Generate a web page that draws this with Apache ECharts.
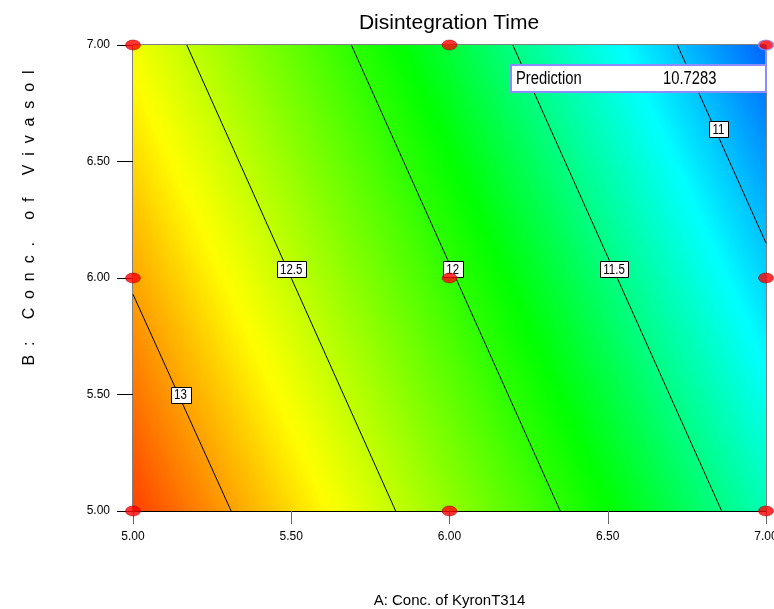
<!DOCTYPE html>
<html>
<head>
<meta charset="utf-8">
<title>Disintegration Time</title>
<script src="https://cdn.jsdelivr.net/npm/echarts@6/dist/echarts.min.js"></script>
<style>
	html, body { margin: 0; padding: 0; background: #fff; }
	#main { width: 774px; height: 609px; }
</style>
</head>
<body>
<div id="main"></div>
<script>
// factor axes
var axisA = [5.00, 5.50, 6.00, 6.50, 7.00];
var axisB = [5.00, 5.50, 6.00, 6.50, 7.00];

// contour levels, and where each line enters / leaves the plot
var levels = [13, 12.5, 12, 11.5, 11];
var lineStartA = [5.00, 5.17, 5.69, 6.20, 6.72];
var lineStartB = [5.93, 7.00, 7.00, 7.00, 7.00];
var lineEndA = [5.31, 5.83, 6.35, 6.86, 7.00];
var lineEndB = [5.00, 5.00, 5.00, 5.00, 6.15];

// where the level flags sit on the lines
var flagA = [5.15, 5.50, 6.01, 6.52, 6.85];
var flagB = [5.50, 6.04, 6.04, 6.04, 6.64];

// design points
var designA = [5, 5, 5, 6, 6, 6, 7, 7, 7];
var designB = [5, 6, 7, 5, 6, 7, 5, 6, 7];

var cornerA = [5, 7];
var cornerB = [5, 7];
var cornerValue = [13.30, 10.7283];

// prediction flag
var predictionA = 7;
var predictionB = 7;
var predictionValue = 10.7283;

// colour ramp of the response
var rampValues = [10.45, 11.17, 11.85, 12.7, 13.5];
var rampColors = ['#0000ff', '#00ffff', '#00ff00', '#ffff00', '#ff0000'];

var FONT = '"Liberation Sans", Arial, sans-serif';
var NARROW_X = 0.82; // the original uses a narrow face

var measureCtx = document.createElement('canvas').getContext('2d');
function textWidth(text, font) {
	measureCtx.font = font;
	return measureCtx.measureText(text).width;
}

function hexToRgb(h) {
	return [parseInt(h.substr(1, 2), 16), parseInt(h.substr(3, 2), 16), parseInt(h.substr(5, 2), 16)];
}

function colorAt(v) {
	if (v <= rampValues[0]) {
		return rampColors[0];
	}
	for (var i = 0; i < rampValues.length - 1; i++) {
		if (v <= rampValues[i + 1]) {
			var t = (v - rampValues[i]) / (rampValues[i + 1] - rampValues[i]);
			var a = hexToRgb(rampColors[i]);
			var b = hexToRgb(rampColors[i + 1]);
			return 'rgb(' + Math.round(a[0] + (b[0] - a[0]) * t) + ',' + Math.round(a[1] + (b[1] - a[1]) * t) + ','
					+ Math.round(a[2] + (b[2] - a[2]) * t) + ')';
		}
	}
	return rampColors[rampColors.length - 1];
}

// the plot area, shaded along the normal of the contour lines
function renderFill(params, api) {
	var lo = api.coord([axisA[0], axisB[0]]);
	var hi = api.coord([axisA[axisA.length - 1], axisB[axisB.length - 1]]);
	var dx = 0, dy = 0;
	for (var i = 0; i < levels.length; i++) {
		var s = api.coord([lineStartA[i], lineStartB[i]]);
		var e = api.coord([lineEndA[i], lineEndB[i]]);
		var len = Math.sqrt((e[0] - s[0]) * (e[0] - s[0]) + (e[1] - s[1]) * (e[1] - s[1]));
		dx += (e[0] - s[0]) / len;
		dy += (e[1] - s[1]) / len;
	}
	var nl = Math.sqrt(dx * dx + dy * dy);
	var nx = dy / nl, ny = -dx / nl;
	var o = api.coord([cornerA[0], cornerB[0]]);
	var proj = function(p) {
		return (p[0] - o[0]) * nx + (p[1] - o[1]) * ny;
	};
	var anchors = [];
	for (var c = 0; c < cornerA.length; c++) {
		anchors.push({ s : proj(api.coord([cornerA[c], cornerB[c]])), v : cornerValue[c] });
	}
	for (var k = 0; k < levels.length; k++) {
		var ps = proj(api.coord([lineStartA[k], lineStartB[k]]));
		var pe = proj(api.coord([lineEndA[k], lineEndB[k]]));
		anchors.push({ s : (ps + pe) / 2, v : levels[k] });
	}
	anchors.sort(function(a, b) {
		return a.s - b.s;
	});
	var sEnd = anchors[anchors.length - 1].s;
	var stops = [];
	var steps = 12;
	for (var j = 0; j < anchors.length - 1; j++) {
		var a = anchors[j], b = anchors[j + 1];
		for (var q = 0; q < steps; q++) {
			var t = q / steps;
			stops.push({ offset : (a.s + (b.s - a.s) * t) / sEnd, color : colorAt(a.v + (b.v - a.v) * t) });
		}
	}
	stops.push({ offset : 1, color : colorAt(anchors[anchors.length - 1].v) });
	return {
		type : 'rect',
		shape : { x : lo[0], y : hi[1], width : hi[0] - lo[0], height : lo[1] - hi[1] },
		style : {
			fill : {
				type : 'linear',
				x : o[0],
				y : o[1],
				x2 : o[0] + nx * sEnd,
				y2 : o[1] + ny * sEnd,
				global : true,
				colorStops : stops
			}
		}
	};
}

// white level flag on a contour line
function renderFlag(params, api) {
	var p = api.coord([api.value(0), api.value(1)]);
	var text = String(api.value(2));
	var font = '14px ' + FONT;
	var w = textWidth(text, font) * NARROW_X + 7;
	var h = 16;
	return {
		type : 'group',
		children : [ {
			type : 'rect',
			shape : { x : Math.round(p[0] - w / 2) + 0.5, y : Math.round(p[1] - h / 2) + 0.5, width : Math.round(w), height : h },
			style : { fill : '#fff', stroke : '#000', lineWidth : 1 }
		}, {
			type : 'text',
			x : p[0],
			y : p[1] + 1,
			scaleX : NARROW_X,
			style : { text : text, font : font, fill : '#000', align : 'center', verticalAlign : 'middle' }
		} ]
	};
}

// prediction flag hanging below its point
function renderPrediction(params, api) {
	var p = api.coord([api.value(0), api.value(1)]);
	var lavender = '#8c8cff';
	var font = '18px ' + FONT;
	return {
		type : 'group',
		children : [ {
			type : 'line',
			shape : { x1 : p[0], y1 : p[1] + 4, x2 : p[0], y2 : p[1] + 20 },
			style : { stroke : lavender, lineWidth : 2 }
		}, {
			type : 'rect',
			shape : { x : p[0] - 255, y : p[1] + 20, width : 255, height : 27 },
			style : { fill : '#fff', stroke : lavender, lineWidth : 2 }
		}, {
			type : 'text',
			x : p[0] - 250,
			y : p[1] + 34,
			scaleX : NARROW_X,
			style : { text : 'Prediction', font : font, fill : '#000', verticalAlign : 'middle' }
		}, {
			type : 'text',
			x : p[0] - 103,
			y : p[1] + 34,
			scaleX : NARROW_X,
			style : { text : api.value(2).toFixed(4), font : font, fill : '#000', verticalAlign : 'middle' }
		} ]
	};
}

var series = [];
series.push({
	type : 'custom',
	renderItem : renderFill,
	data : [ [ cornerA[0], cornerB[0] ] ],
	silent : true,
	z : 1
});

for (var i = 0; i < levels.length; i++) {
	series.push({
		type : 'line',
		data : [ [ lineStartA[i], lineStartB[i] ], [ lineEndA[i], lineEndB[i] ] ],
		symbol : 'none',
		lineStyle : { color : '#000', width : 1 },
		silent : true,
		z : 2
	});
}

var flagData = [];
for (var f = 0; f < levels.length; f++) {
	flagData.push([ flagA[f], flagB[f], levels[f] ]);
}
series.push({
	type : 'custom',
	renderItem : renderFlag,
	data : flagData,
	silent : true,
	z : 3
});

var pointData = [];
for (var d = 0; d < designA.length; d++) {
	var item = { value : [ designA[d], designB[d] ] };
	if (designA[d] == predictionA && designB[d] == predictionB) {
		item.itemStyle = { borderColor : '#8c8cff', borderWidth : 1.5 };
	}
	pointData.push(item);
}
series.push({
	type : 'scatter',
	data : pointData,
	symbol : 'circle',
	symbolSize : [ 15, 10 ],
	itemStyle : { color : '#ff0000', borderColor : '#a00000', borderWidth : 0.6 },
	silent : true,
	z : 5
});

series.push({
	type : 'custom',
	renderItem : renderPrediction,
	data : [ [ predictionA, predictionB, predictionValue ] ],
	silent : true,
	z : 4
});

var options = {
	animation : false,
	backgroundColor : '#fff',
	title : {
		text : 'Disintegration Time',
		left : 449,
		top : 13,
		padding : 0,
		textAlign : 'center',
		textStyle : { fontFamily : FONT, fontSize : 21, fontWeight : 'normal', color : '#000' }
	},
	grid : {
		left : 133,
		right : 8,
		top : 45,
		bottom : 98,
		containLabel : false,
		outerBoundsMode : 'none',
		show : true,
		borderColor : '#000',
		borderWidth : 1,
		backgroundColor : 'transparent'
	},
	xAxis : {
		type : 'value',
		min : axisA[0],
		max : axisA[axisA.length - 1],
		interval : 0.5,
		name : 'A: Conc. of KyronT314',
		nameLocation : 'middle',
		nameGap : 82,
		nameTextStyle : { fontFamily : FONT, fontSize : 15, color : '#000' },
		axisLine : { lineStyle : { color : '#000', width : 1 } },
		axisTick : { length : 13, lineStyle : { color : '#666' } },
		axisLabel : {
			margin : 20,
			fontFamily : FONT,
			fontSize : 12,
			color : '#000',
			hideOverlap : false,
			formatter : function(v) {
				return v.toFixed(2);
			}
		},
		splitLine : { show : false }
	},
	yAxis : {
		type : 'value',
		min : axisB[0],
		max : axisB[axisB.length - 1],
		interval : 0.5,
		axisLine : { show : true, lineStyle : { color : '#000', width : 1 } },
		axisTick : { show : true, length : 16, lineStyle : { color : '#000' } },
		axisLabel : {
			margin : 23,
			fontFamily : FONT,
			fontSize : 12,
			color : '#000',
			formatter : function(v) {
				return v.toFixed(2);
			}
		},
		splitLine : { show : false }
	},
	graphic : [ {
		type : 'text',
		x : 30,
		y : 218,
		rotation : Math.PI / 2,
		style : {
			text : 'B: Conc. of Vivasol'.split('').join('  '),
			font : '16px ' + FONT,
			fill : '#000',
			align : 'center',
			verticalAlign : 'middle'
		}
	} ],
	series : series
};

var chart = echarts.init(document.getElementById('main'));
chart.setOption(options);
</script>
</body>
</html>
